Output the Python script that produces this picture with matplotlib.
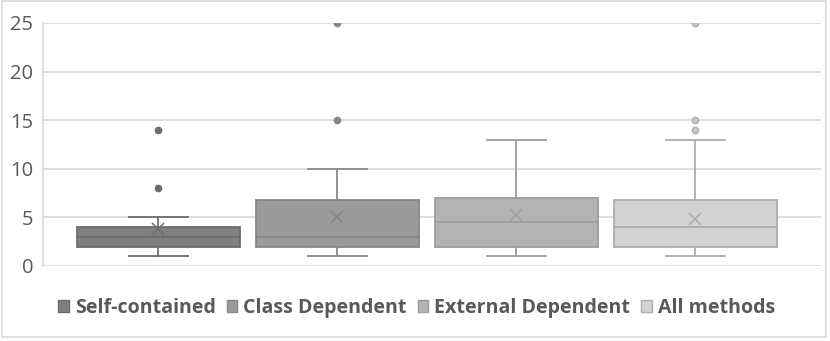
import matplotlib.pyplot as plt
from matplotlib.patches import Rectangle

# Dados (box plot estilo Excel)
series = ['Self-contained', 'Class Dependent', 'External Dependent', 'All methods']
whisker_low = [1, 1, 1, 1]
q1 = [2, 2, 2, 2]
medians = [3, 3, 4.5, 4]
q3 = [4, 6.75, 7, 6.75]
whisker_high = [5, 10, 13, 13]
means = [3.8, 5.0, 5.2, 4.85]
outliers = [[8, 14], [15, 25], [], [14, 15, 25]]
yticks = [0, 5, 10, 15, 20, 25]

fills = ['#7f7f7f', '#9a9a9a', '#b3b3b3', '#d2d2d2']
edges = ['#6d6d6d', '#878787', '#9d9d9d', '#acacac']

plt.rcParams['font.family'] = ['Open Sans', 'DejaVu Sans']

fig = plt.figure(figsize=(8.3, 3.41), dpi=100)
fig.patches.append(Rectangle((0.002, 0.012), 0.993, 0.984, transform=fig.transFigure,
                             fill=False, edgecolor='#d9d9d9', linewidth=1.2))
ax = fig.add_axes([0.0518, 0.22, 0.937, 0.7126])

stats = []
for i in range(len(series)):
    stats.append({'whislo': whisker_low[i], 'q1': q1[i], 'med': medians[i],
                  'q3': q3[i], 'whishi': whisker_high[i], 'mean': means[i],
                  'fliers': outliers[i], 'label': series[i]})

for i, st in enumerate(stats):
    ax.bxp([st], positions=[i], widths=0.91, patch_artist=True, showmeans=True,
           boxprops=dict(facecolor=fills[i], edgecolor=edges[i], linewidth=1.3),
           medianprops=dict(color=edges[i], linewidth=1.3),
           whiskerprops=dict(color=edges[i], linewidth=1.3),
           capprops=dict(color=edges[i], linewidth=1.3),
           capwidths=0.33,
           meanprops=dict(marker='x', markeredgecolor=edges[i], markersize=9,
                          markeredgewidth=1.1),
           flierprops=dict(marker='o', markerfacecolor=edges[i] if i < 3 else '#c8c8c8',
                           markeredgecolor=edges[i], markersize=4.5))

ax.set_xlim(-0.645, 3.70)
ax.set_ylim(0, 25)
ax.set_yticks(yticks)
ax.set_xticks([])
ax.yaxis.grid(True, color='#d9d9d9', linewidth=1.2)
ax.set_axisbelow(True)
for s in ['top', 'right', 'bottom']:
    ax.spines[s].set_visible(False)
ax.spines['left'].set_color('#d9d9d9')
ax.spines['left'].set_linewidth(1.2)
ax.tick_params(axis='y', length=0, pad=7, labelsize=14.5, labelcolor='#595959')

handles = [Rectangle((0, 0), 1, 1, facecolor=fills[i], edgecolor=edges[i]) for i in range(4)]
leg = fig.legend(handles, series, loc='center', bbox_to_anchor=(0.502, 0.097), ncol=4,
                 frameon=False, handlelength=0.55, handleheight=0.55, handletextpad=0.3,
                 columnspacing=0.55, prop={'weight': 'bold', 'size': 14.1})
for t in leg.get_texts():
    t.set_color('#595959')

plt.savefig('out.png', dpi=100)
